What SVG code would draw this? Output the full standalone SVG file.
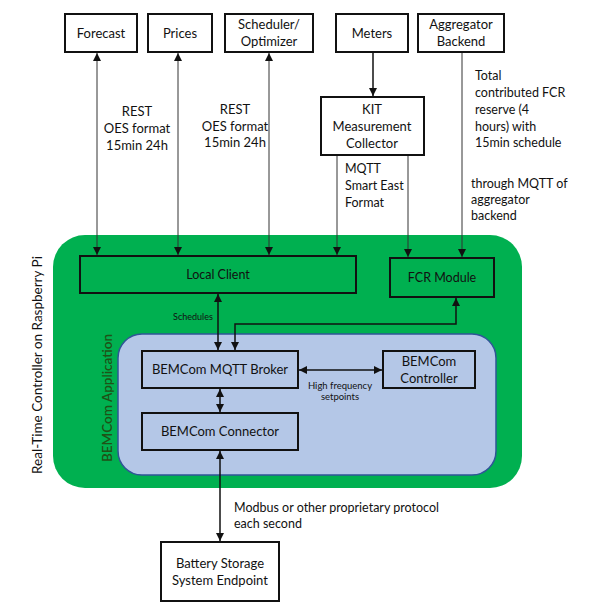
<svg xmlns="http://www.w3.org/2000/svg" width="594" height="611" viewBox="0 0 594 611">
<style>
text{font-family:Lato,"Open Sans","Liberation Sans",sans-serif;fill:#111}
.box{fill:#fff;stroke:#111;stroke-width:2}
.gbox{fill:#00b050;stroke:#111;stroke-width:2}
.bbox{fill:#b4c7e7;stroke:#111;stroke-width:2}
.t{font-size:13px;text-anchor:middle}
.l{font-size:12.5px}
.c{stroke:#333;stroke-width:1;fill:none}
.ck{stroke:#111;stroke-width:1.5;fill:none}
</style>
<defs>
<marker id="a" viewBox="0 0 10 10" refX="10" refY="5" markerWidth="8" markerHeight="8" markerUnits="userSpaceOnUse" orient="auto-start-reverse"><path d="M0,0L10,5L0,10z" fill="#111"/></marker>
</defs>
<g id="rtc">
<rect x="53" y="235" width="469" height="253" rx="32" fill="#00b050"/>
<text transform="translate(42,365) rotate(-90)" class="t" style="font-size:13.5px">Real-Time Controller on Raspberry Pi</text>
</g>
<g id="app">
<rect x="118" y="334" width="378" height="141" rx="24" fill="#b4c7e7" stroke="#2f5597" stroke-width="1.5"/>
<text transform="translate(112,398) rotate(-90)" class="t" style="font-size:13.5px;font-weight:600;fill:#1f5216">BEMCom Application</text>
</g>
<g id="forecast"><rect class="box" x="65" y="14" width="72" height="38"/><text class="t" x="101" y="38">Forecast</text></g>
<g id="prices"><rect class="box" x="148" y="14" width="64" height="38"/><text class="t" x="180" y="38">Prices</text></g>
<g id="scheduler"><rect class="box" x="225" y="14" width="88" height="38"/><text class="t" x="269" y="29">Scheduler/</text><text class="t" x="269" y="46">Optimizer</text></g>
<g id="meters"><rect class="box" x="336" y="14" width="72" height="38"/><text class="t" x="372" y="38">Meters</text></g>
<g id="aggregator"><rect class="box" x="418" y="14" width="86" height="38"/><text class="t" x="461" y="29">Aggregator</text><text class="t" x="461" y="46">Backend</text></g>
<g id="kit"><rect class="box" x="321" y="97" width="103" height="58"/><text class="t" x="372" y="114">KIT</text><text class="t" x="372" y="131">Measurement</text><text class="t" x="372" y="148">Collector</text></g>
<g id="localclient"><rect class="gbox" x="80" y="256" width="276" height="37"/><text class="t" x="218" y="279" style="font-size:12.5px">Local Client</text></g>
<g id="fcr"><rect class="gbox" x="390" y="258" width="104" height="39"/><text class="t" x="442" y="282" style="font-size:12.5px">FCR Module</text></g>
<g id="broker"><rect class="bbox" x="142" y="351" width="156" height="37"/><text class="t" x="220" y="374">BEMCom MQTT Broker</text></g>
<g id="connector"><rect class="bbox" x="142" y="413" width="156" height="37"/><text class="t" x="220" y="436">BEMCom Connector</text></g>
<g id="controller"><rect class="bbox" x="383" y="351" width="92" height="37"/><text class="t" x="429" y="366">BEMCom</text><text class="t" x="429" y="383">Controller</text></g>
<g id="battery"><rect class="box" x="161" y="542" width="118" height="59"/><text class="t" x="220" y="568">Battery Storage</text><text class="t" x="220" y="585">System Endpoint</text></g>
<g id="connectors">
<line class="c" x1="97" y1="53" x2="97" y2="255" marker-start="url(#a)" marker-end="url(#a)"/>
<line class="c" x1="178" y1="53" x2="178" y2="255" marker-start="url(#a)" marker-end="url(#a)"/>
<line class="c" x1="269" y1="53" x2="269" y2="255" marker-start="url(#a)" marker-end="url(#a)"/>
<line class="ck" x1="373" y1="53" x2="373" y2="96" marker-end="url(#a)"/>
<line class="c" x1="337" y1="156" x2="337" y2="255" marker-end="url(#a)"/>
<line class="c" x1="408" y1="156" x2="408" y2="257" marker-end="url(#a)"/>
<line class="c" x1="462" y1="53" x2="462" y2="257" marker-end="url(#a)"/>
<line class="ck" x1="218" y1="294" x2="218" y2="350" marker-start="url(#a)" marker-end="url(#a)"/>
<polyline class="ck" points="235,350 235,324 456,324 456,298" marker-start="url(#a)" marker-end="url(#a)"/>
<line class="ck" x1="220" y1="389" x2="220" y2="412" marker-start="url(#a)" marker-end="url(#a)"/>
<line class="ck" x1="299" y1="370" x2="382" y2="370" stroke="#444" marker-start="url(#a)" marker-end="url(#a)"/>
<line class="ck" x1="220" y1="451" x2="220" y2="541" marker-start="url(#a)" marker-end="url(#a)"/>
</g>
<g id="labels">
<text class="t" x="137" y="116">REST</text>
<text class="t" x="137" y="133">OES format</text>
<text class="t" x="137" y="150">15min 24h</text>
<text class="t" x="235" y="114">REST</text>
<text class="t" x="235" y="131">OES format</text>
<text class="t" x="235" y="147">15min 24h</text>
<text class="l" x="345" y="173">MQTT</text>
<text class="l" x="345" y="190">Smart East</text>
<text class="l" x="345" y="207">Format</text>
<text class="l" x="475" y="80">Total</text>
<text class="l" x="475" y="97">contributed FCR</text>
<text class="l" x="475" y="114">reserve (4</text>
<text class="l" x="475" y="131">hours) with</text>
<text class="l" x="475" y="147">15min schedule</text>
<text class="l" x="471" y="188">through MQTT of</text>
<text class="l" x="471" y="204">aggregator</text>
<text class="l" x="471" y="220">backend</text>
<text class="t" x="193" y="320" style="font-size:9px">Schedules</text>
<text class="t" x="340" y="389" style="font-size:9.5px">High frequency</text>
<text class="t" x="340" y="400" style="font-size:9.5px">setpoints</text>
<text class="l" x="234" y="512">Modbus or other proprietary protocol</text>
<text class="l" x="234" y="528">each second</text>
</g>
</svg>
